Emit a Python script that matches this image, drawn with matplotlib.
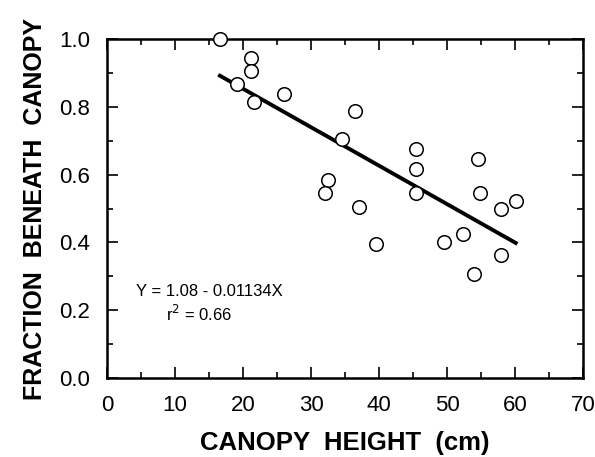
import matplotlib
matplotlib.use("Agg")
import matplotlib.pyplot as plt
import numpy as np

height_cm = [16.6, 19.1, 21.2, 21.2, 21.6, 26.1, 34.5, 36.5, 32.5, 32.0, 37.0, 39.6,
             45.5, 45.5, 45.5, 49.5, 52.3, 54.6, 54.9, 53.9, 58.0, 58.0, 60.1]
fraction = [1.00, 0.867, 0.944, 0.906, 0.814, 0.838, 0.705, 0.788, 0.584, 0.546, 0.504, 0.395,
            0.676, 0.617, 0.546, 0.401, 0.425, 0.646, 0.546, 0.307, 0.499, 0.363, 0.522]
intercept = 1.08
slope = -0.01134
eq_text = "Y = 1.08 - 0.01134X"
r2_text = "r$^2$ = 0.66"

plt.rcParams['font.family'] = ['Liberation Sans', 'DejaVu Sans']

fig = plt.figure(figsize=(5.95, 4.57), dpi=100)
ax = fig.add_axes([107/595, 1 - 378/457, (583-107)/595, (378-39)/457])

ax.scatter(height_cm, fraction, s=95, facecolors='white', edgecolors='black',
           linewidths=1.1, zorder=3, clip_on=False)
xl = np.array([min(height_cm), max(height_cm)])
ax.plot(xl, intercept + slope * xl, color='black', lw=2.8, zorder=2)

ax.set_xlim(0, 70)
ax.set_ylim(0, 1.0)
ax.set_xticks(np.arange(0, 71, 10))
ax.set_xticks(np.arange(0, 71, 5), minor=True)
ax.set_yticks(np.arange(0, 1.01, 0.2))
ax.set_yticks(np.arange(0, 1.01, 0.1), minor=True)
ax.set_yticklabels([f"{v:.1f}" for v in np.arange(0, 1.01, 0.2)])

ax.tick_params(which='both', direction='in', top=True, right=True, width=1.2)
ax.tick_params(which='major', length=8, labelsize=16, pad=12)
ax.tick_params(which='minor', length=4)
for s in ax.spines.values():
    s.set_linewidth(1.8)

ax.set_xlabel("CANOPY  HEIGHT  (cm)", fontsize=18.5, fontweight='bold', labelpad=11)
ax.set_ylabel("FRACTION  BENEATH  CANOPY", fontsize=18, fontweight='bold', labelpad=9)

ax.text(4.2, 0.255, eq_text, fontsize=12, va='center', ha='left')
ax.text(8.7, 0.19, r2_text, fontsize=12, va='center', ha='left')

fig.savefig("out.png", dpi=100)
